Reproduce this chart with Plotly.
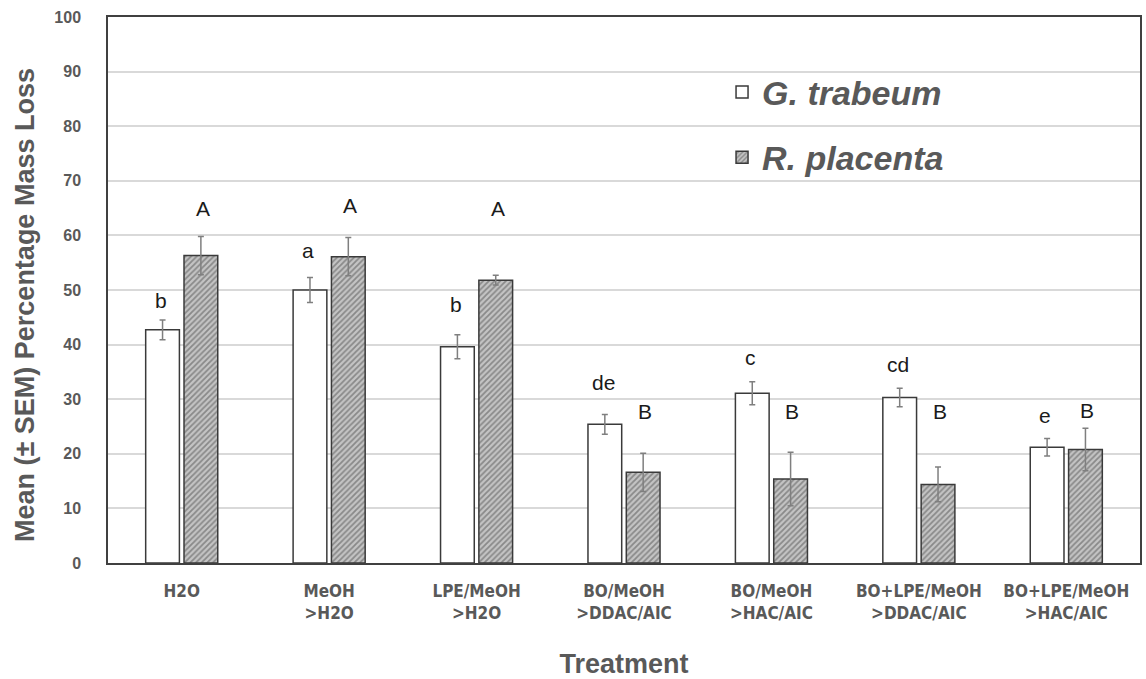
import plotly.graph_objects as go

categories = ["H2O", "MeOH<br>>H2O", "LPE/MeOH<br>>H2O", "BO/MeOH<br>>DDAC/AIC",
              "BO/MeOH<br>>HAC/AIC", "BO+LPE/MeOH<br>>DDAC/AIC", "BO+LPE/MeOH<br>>HAC/AIC"]
g_trabeum = [42.7, 50.0, 39.6, 25.4, 31.1, 30.3, 21.2]
g_trabeum_sem = [1.8, 2.3, 2.2, 1.8, 2.1, 1.7, 1.6]
r_placenta = [56.3, 56.1, 51.8, 16.6, 15.4, 14.4, 20.8]
r_placenta_sem = [3.5, 3.5, 0.9, 3.5, 4.9, 3.2, 3.9]
g_letters = ["b", "a", "b", "de", "c", "cd", "e"]
g_letter_y = [48, 57.3, 47.4, 33, 37.7, 36.3, 27]
r_letters = ["A", "A", "A", "B", "B", "B", "B"]
r_letter_y = [65, 65.5, 65, 27.8, 27.8, 27.8, 28]

GRAY = "#595959"
FONT = "Liberation Sans, Arial, sans-serif"
NARROW = "DejaVu Sans Condensed, Liberation Sans Narrow, Arial Narrow, Liberation Sans, Arial, sans-serif"

fig = go.Figure()
fig.add_trace(go.Bar(
    x=categories, y=g_trabeum, name="<i>G. trabeum</i>",
    marker=dict(color="white", line=dict(color="#3a3a3a", width=1.5)),
    error_y=dict(type="data", array=g_trabeum_sem, color="#7f7f7f", thickness=1.5, width=3),
    legendgroup="g",
))
fig.add_trace(go.Bar(
    x=categories, y=r_placenta, name="<i>R. placenta</i>",
    marker=dict(color="#b0b0b0", line=dict(color="#3a3a3a", width=1.5),
                pattern=dict(shape="/", fgcolor="#4d4d4d", bgcolor="#c4c4c4", size=4, solidity=0.45)),
    error_y=dict(type="data", array=r_placenta_sem, color="#7f7f7f", thickness=1.5, width=3),
    legendgroup="r",
))

ann = []
for i, c in enumerate(categories):
    ann.append(dict(x=c, y=g_letter_y[i], text=g_letters[i], xref="x", yref="y",
                    xshift=-21, showarrow=False, font=dict(size=21, color="#1a1a1a", family=FONT)))
    ann.append(dict(x=c, y=r_letter_y[i], text=r_letters[i], xref="x", yref="y",
                    xshift=21, showarrow=False, font=dict(size=21, color="#1a1a1a", family=FONT)))
ann.append(dict(x=0, y=0.4725, xref="paper", yref="paper", xshift=-83, textangle=-90,
                xanchor="center", yanchor="middle", showarrow=False,
                text="Mean (± SEM) Percentage Mass Loss",
                font=dict(size=27, color=GRAY, family=FONT, weight="bold")))

fig.update_layout(
    width=1146, height=679,
    margin=dict(l=108, r=6, t=17, b=116),
    paper_bgcolor="white", plot_bgcolor="white",
    barmode="group", bargap=0.48, bargroupgap=0.12,
    annotations=ann,
    legend=dict(x=0.595, y=0.915, xanchor="left", yanchor="top",
                font=dict(size=34, color=GRAY, family=FONT, weight="bold"),
                tracegroupgap=18, bgcolor="rgba(0,0,0,0)", itemwidth=30),
    xaxis=dict(
        automargin=False,
        showline=True, linecolor="#404040", linewidth=1.5, mirror=True,
        tickfont=dict(size=17, color=GRAY, family=NARROW, weight="bold"),
        title=dict(text="Treatment", font=dict(size=27, color=GRAY, family=FONT, weight="bold"), standoff=36),
        ticks="outside", ticklen=12, tickcolor="rgba(0,0,0,0)",
    ),
    yaxis=dict(
        automargin=False,
        range=[0, 100], dtick=10,
        showline=True, linecolor="#404040", linewidth=1.5, mirror=True,
        gridcolor="#d9d9d9", gridwidth=1.5,
        tickfont=dict(size=16, color=GRAY, family=FONT, weight="bold"),
        ticks="outside", ticklen=22, tickcolor="rgba(0,0,0,0)",
    ),
)

fig.write_html("out.html")
